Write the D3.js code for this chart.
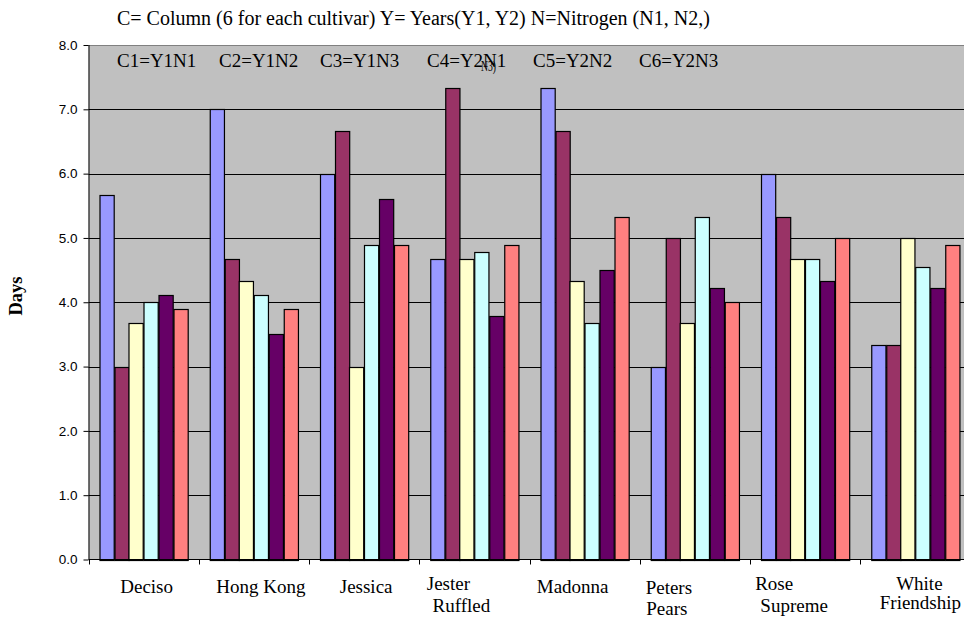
<!DOCTYPE html>
<html>
<head>
<meta charset="utf-8">
<script src="https://cdn.jsdelivr.net/npm/d3@7"></script>
<style>
  html, body { margin: 0; padding: 0; background: #fff; }
  svg { display: block; }
</style>
</head>
<body>
<svg id="chart" width="964" height="618"></svg>
<script>
// Cultivars on the x axis
const cultivars = ["Deciso", "Hong Kong", "Jessica", "Jester Ruffled", "Madonna", "Peters Pears", "Rose Supreme", "White Friendship"];
// Column series: year x nitrogen treatment
const seriesNames = ["C1=Y1N1", "C2=Y1N2", "C3=Y1N3", "C4=Y2N1", "C5=Y2N2", "C6=Y2N3"];
// Days, one array per column series, in cultivar order
const c1 = [5.67, 7.00, 6.00, 4.67, 7.33, 3.00, 6.00, 3.33];
const c2 = [3.00, 4.67, 6.67, 7.33, 6.67, 5.00, 5.33, 3.33];
const c3 = [3.67, 4.33, 3.00, 4.67, 4.33, 3.67, 4.67, 5.00];
const c4 = [4.00, 4.11, 4.89, 4.78, 3.67, 5.33, 4.68, 4.55];
const c5 = [4.11, 3.50, 5.61, 3.78, 4.50, 4.22, 4.33, 4.22];
const c6 = [3.89, 3.89, 4.89, 4.89, 5.33, 4.00, 5.00, 4.89];
const yTicks = [0, 1, 2, 3, 4, 5, 6, 7, 8];

const seriesValues = [c1, c2, c3, c4, c5, c6];
const colors = ["#9999FF", "#993366", "#FFFFCC", "#CCFFFF", "#660066", "#FF8080"];

// Plot frame
const plotLeft = 88.5, plotTop = 45, plotBottom = 559.5;
const bandW = 110.25;
const plotRight = plotLeft + bandW * cultivars.length;

const svg = d3.select("#chart");
const serif = "'Liberation Serif', 'Times New Roman', serif";
const sans = "'Liberation Sans', Arial, sans-serif";

const x0 = d3.scaleBand().domain(cultivars).range([plotLeft, plotRight]).padding(0);
const x1 = d3.scaleBand().domain(seriesNames)
  .range([x0.bandwidth() * 0.1, x0.bandwidth() * 0.9]).padding(0);
const y = d3.scaleLinear().domain([0, 8]).range([plotBottom, plotTop]);

// Plot background
svg.append("rect")
  .attr("x", plotLeft).attr("y", plotTop)
  .attr("width", plotRight - plotLeft).attr("height", plotBottom - plotTop)
  .attr("fill", "#C0C0C0");

// Horizontal gridlines
svg.append("g").selectAll("line").data(yTicks.filter(d => d > 0)).join("line")
  .attr("x1", plotLeft).attr("x2", plotRight)
  .attr("y1", d => Math.round(y(d)) + 0.5).attr("y2", d => Math.round(y(d)) + 0.5)
  .attr("stroke", d => d === 8 ? "#808080" : "#000")
  .attr("stroke-width", 1);

// Bars
const rows = cultivars.map((c, i) => ({ c, vals: seriesValues.map((s, k) => ({ key: seriesNames[k], v: s[i], k })) }));
svg.append("g").selectAll("g").data(rows).join("g")
  .attr("transform", d => `translate(${x0(d.c)},0)`)
  .selectAll("rect").data(d => d.vals).join("rect")
  .attr("x", d => Math.round(x1(d.key)) + 0.5)
  .attr("y", d => Math.round(y(d.v)) + 0.5)
  .attr("width", x1.bandwidth() - 0.5)
  .attr("height", d => Math.round(y(0)) - Math.round(y(d.v)))
  .attr("fill", d => colors[d.k])
  .attr("stroke", "#000")
  .attr("stroke-width", 1.2);

// Y axis
const yAxis = d3.axisLeft(y).tickValues(yTicks).tickFormat(d3.format(".1f")).tickSize(5).tickPadding(6);
const gy = svg.append("g").attr("transform", `translate(${plotLeft},0)`).call(yAxis);
gy.select(".domain").attr("stroke", "#000").attr("d", `M0.5,${plotTop}V${plotBottom}`);
gy.selectAll(".tick line").attr("stroke", "#000");
gy.selectAll(".tick text").attr("font-family", sans).attr("font-size", 13.5).attr("fill", "#000");

// X axis with ticks at category boundaries
const xAxisLine = svg.append("g");
xAxisLine.append("line").attr("x1", plotLeft).attr("x2", plotRight)
  .attr("y1", plotBottom).attr("y2", plotBottom).attr("stroke", "#000");
xAxisLine.selectAll("line.tk").data(d3.range(cultivars.length + 1)).join("line")
  .attr("class", "tk")
  .attr("x1", i => Math.round(plotLeft + i * x0.step()) + 0.5)
  .attr("x2", i => Math.round(plotLeft + i * x0.step()) + 0.5)
  .attr("y1", plotBottom).attr("y2", plotBottom + 5).attr("stroke", "#000");

// Category labels, wrapped the way the cells were laid out
const labelLines = [["Deciso"], ["Hong Kong"], ["Jessica"], ["Jester", "Ruffled"], ["Madonna"], ["Peters", "Pears"], ["Rose", "Supreme"], ["White", "Friendship"]];
const labelShift = [[3, 593], [7, 593], [2, 593], [-26, 590, -13, 612], [-12, 593], [-26, 594, -28, 615], [-31, 590, -11, 612], [4, 590, 5, 609]];
const gl = svg.append("g").attr("font-family", serif).attr("font-size", 19).attr("fill", "#000");
cultivars.forEach((c, i) => {
  const cx = x0(c) + x0.bandwidth() / 2;
  labelLines[i].forEach((ln, j) => {
    gl.append("text")
      .attr("x", cx + labelShift[i][j * 2])
      .attr("y", labelShift[i][j * 2 + 1])
      .attr("text-anchor", "middle")
      .text(ln);
  });
});

// Axis title
svg.append("text")
  .attr("transform", "translate(22,296) rotate(-90)")
  .attr("text-anchor", "middle")
  .attr("font-family", serif).attr("font-weight", "bold").attr("font-size", 18.5)
  .text("Days");

// Chart heading
svg.append("text")
  .attr("x", 117).attr("y", 25)
  .attr("font-family", serif).attr("font-size", 20)
  .text("C= Column (6 for each cultivar) Y= Years(Y1, Y2) N=Nitrogen (N1, N2,)");

// Column key written across the top of the plot
const keyX = [117, 219, 320, 427, 533, 639];
svg.append("g").attr("font-family", serif).attr("font-size", 19)
  .selectAll("text").data(seriesNames).join("text")
  .attr("x", (d, i) => keyX[i]).attr("y", 67)
  .text(d => d);

// Stray overlapping fragment beside the fourth key entry
svg.append("text")
  .attr("x", 481).attr("y", 71)
  .attr("font-family", serif).attr("font-size", 15)
  .attr("textLength", 15).attr("lengthAdjust", "spacingAndGlyphs")
  .text("N3)");
</script>
</body>
</html>
